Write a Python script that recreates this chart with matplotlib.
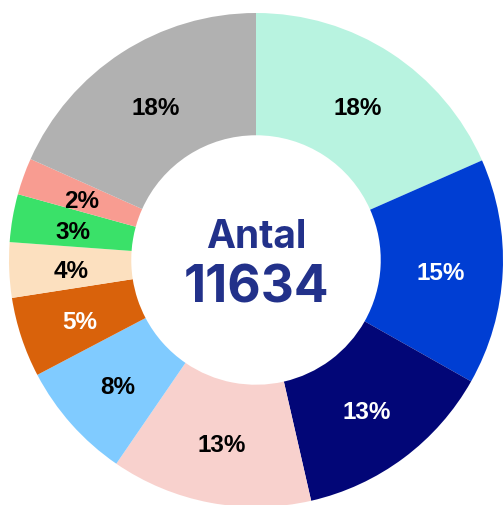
import matplotlib
matplotlib.use('Agg')
import matplotlib.pyplot as plt

# Data (counts, total 11634)
categories = ['A', 'B', 'C', 'D', 'E', 'F', 'G', 'H', 'I', 'J']
values = [2140, 1720, 1540, 1530, 900, 610, 420, 365, 280, 2129]
colors = ['#B8F3E0', '#003ED3', '#020677', '#F8D1CD', '#80CBFF',
          '#D9620B', '#FCE0BF', '#3AE169', '#F89C91', '#B1B1B1']
label_colors = ['black', 'white', 'white', 'black', 'black',
                'white', 'black', 'black', 'black', 'black']
total = sum(values)

fig = plt.figure(figsize=(5.03, 5.06), dpi=100)
ax = fig.add_axes([0, 0, 1, 1])

wedges, texts, autotexts = ax.pie(
    values, colors=colors, startangle=90, counterclock=False,
    radius=1.0, autopct=lambda p: '%d%%' % round(p), pctdistance=0.75,
    wedgeprops=dict(width=0.495, linewidth=0),
    textprops=dict(family='Liberation Sans', weight='bold', fontsize=17.5))

# pixel scale: center (256, 261), outer radius 247 px
s = 247.0
ax.set_xlim(-256 / s, (503 - 256) / s)
ax.set_ylim(-(506 - 261) / s, 261 / s)
ax.set_aspect('auto')
ax.axis('off')

for t, c in zip(autotexts, label_colors):
    t.set_color(c)
    x, y = t.get_position()
    t.set_position((x, y - 0.012))

# center text
ax.text(0, 0.053, 'Antal', ha='center', va='baseline', color='#22318A',
        family='Inter', weight='bold', fontsize=28)
ax.text(0, -0.166, str(total), ha='center', va='baseline', color='#22318A',
        family='Inter', weight='bold', fontsize=37)

fig.savefig('out.png', dpi=100)
